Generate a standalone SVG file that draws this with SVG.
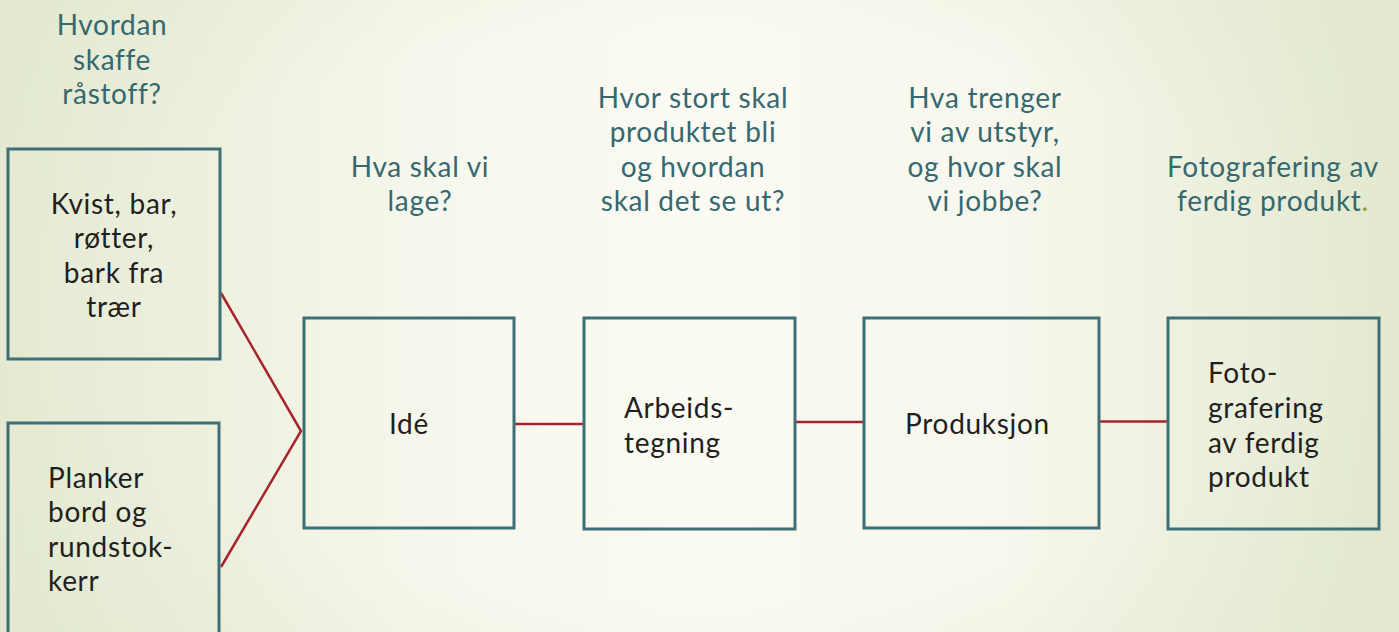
<svg xmlns="http://www.w3.org/2000/svg" width="1399" height="632" viewBox="0 0 1399 632">
  <defs>
    <linearGradient id="bg" x1="0" y1="0" x2="1" y2="0">
      <stop offset="0" stop-color="#e4ead2"/>
      <stop offset="0.3" stop-color="#f6f7ec"/>
      <stop offset="0.5" stop-color="#fbfaf3"/>
      <stop offset="0.72" stop-color="#f7f7ed"/>
      <stop offset="1" stop-color="#e2e9cf"/>
    </linearGradient>
    <radialGradient id="vig" cx="0.5" cy="0.5" r="0.75">
      <stop offset="0.6" stop-color="#dfe6cb" stop-opacity="0"/>
      <stop offset="1" stop-color="#dfe6cb" stop-opacity="0.5"/>
    </radialGradient>
  </defs>
  <style>
    .box { fill: none; stroke: #3e6e76; stroke-width: 3; }
    .q { font-family: Lato, "Open Sans", sans-serif; font-size: 28px; letter-spacing: 0.7px; fill: #36686f; text-anchor: middle; }
    .t { font-family: Lato, "Open Sans", sans-serif; font-size: 28px; letter-spacing: 0.7px; fill: #231f20; }
    .c { text-anchor: middle; }
    .con { fill: none; stroke: #a6252b; stroke-width: 2.5; }
  </style>
  <rect x="0" y="0" width="1399" height="632" fill="url(#bg)"/>
  <rect x="0" y="0" width="1399" height="632" fill="url(#vig)"/>

  <g id="questions">
    <text class="q" x="112" y="35">Hvordan</text>
    <text class="q" x="112" y="70">skaffe</text>
    <text class="q" x="112" y="104">råstoff?</text>

    <text class="q" x="420" y="177">Hva skal vi</text>
    <text class="q" x="420" y="211">lage?</text>

    <text class="q" x="693" y="108">Hvor stort skal</text>
    <text class="q" x="693" y="142">produktet bli</text>
    <text class="q" x="693" y="177">og hvordan</text>
    <text class="q" x="693" y="211">skal det se ut?</text>

    <text class="q" x="985" y="108">Hva trenger</text>
    <text class="q" x="985" y="142">vi av utstyr,</text>
    <text class="q" x="985" y="177">og hvor skal</text>
    <text class="q" x="985" y="211">vi jobbe?</text>

    <text class="q" x="1273" y="177">Fotografering av</text>
    <text class="q" x="1273" y="211">ferdig produkt<tspan fill="#8a9a3a">.</tspan></text>
  </g>

  <g id="connectors">
    <polyline class="con" points="221,293 301,431 221,567"/>
    <line class="con" x1="514" y1="424" x2="584" y2="424"/>
    <line class="con" x1="796" y1="422" x2="864" y2="422"/>
    <line class="con" x1="1100" y1="421.5" x2="1168" y2="421.5"/>
  </g>

  <g id="n-kvist">
    <rect class="box" x="8" y="149" width="212" height="210"/>
    <text class="t c" x="114" y="214">Kvist, bar,</text>
    <text class="t c" x="114" y="248">røtter,</text>
    <text class="t c" x="114" y="283">bark fra</text>
    <text class="t c" x="114" y="317">trær</text>
  </g>

  <g id="n-planker">
    <rect class="box" x="8" y="423" width="211" height="220"/>
    <text class="t" x="48" y="488">Planker</text>
    <text class="t" x="48" y="522">bord og</text>
    <text class="t" x="48" y="557">rundstok-</text>
    <text class="t" x="48" y="591">kerr</text>
  </g>

  <g id="n-ide">
    <rect class="box" x="304" y="318" width="210" height="210"/>
    <text class="t c" x="409" y="434">Idé</text>
  </g>

  <g id="n-arbeid">
    <rect class="box" x="584" y="318" width="211" height="211"/>
    <text class="t" x="624" y="418">Arbeids-</text>
    <text class="t" x="624" y="453">tegning</text>
  </g>

  <g id="n-produksjon">
    <rect class="box" x="864" y="318" width="235" height="210"/>
    <text class="t" x="905" y="434">Produksjon</text>
  </g>

  <g id="n-foto">
    <rect class="box" x="1168" y="318" width="211" height="211"/>
    <text class="t" x="1208" y="383">Foto-</text>
    <text class="t" x="1208" y="418">grafering</text>
    <text class="t" x="1208" y="453">av ferdig</text>
    <text class="t" x="1208" y="487">produkt</text>
  </g>
</svg>
